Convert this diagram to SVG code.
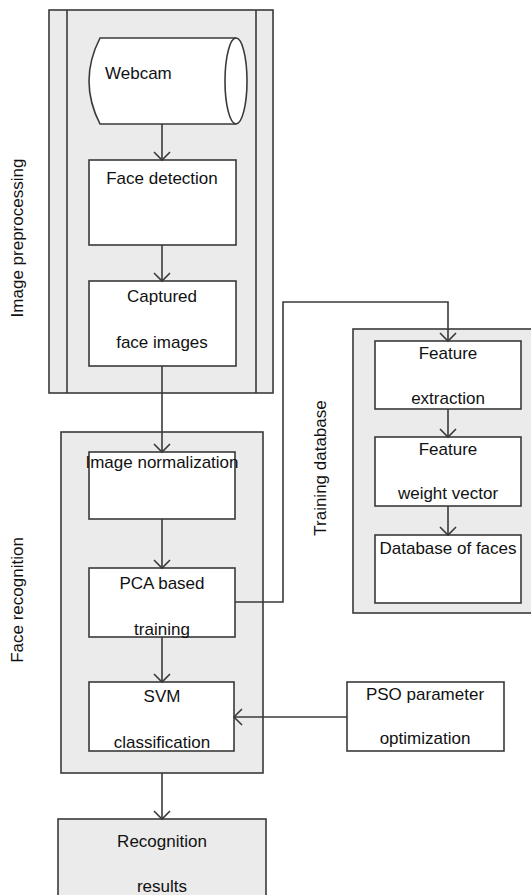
<svg xmlns="http://www.w3.org/2000/svg" width="531" height="895" viewBox="0 0 531 895">
  <style>
    .panel { fill: #ebebeb; stroke: #3a3a3a; stroke-width: 1.6; }
    .box { fill: #ffffff; stroke: #3a3a3a; stroke-width: 1.6; }
    .line { fill: none; stroke: #3a3a3a; stroke-width: 1.6; }
    .edge { fill: none; stroke: #3a3a3a; stroke-width: 1.6; marker-end: url(#vhead); }
    text { font-family: "Liberation Sans", Arial, sans-serif; font-size: 17px; fill: #111; }
    .c { text-anchor: middle; }
  </style>
  <defs>
    <marker id="vhead" markerWidth="18" markerHeight="18" refX="9" refY="9" orient="auto" markerUnits="userSpaceOnUse">
      <path d="M1,1 L9,9 L1,17" fill="none" stroke="#3a3a3a" stroke-width="1.6"/>
    </marker>
  </defs>
  <rect width="531" height="895" fill="#ffffff"/>

  <!-- Image preprocessing panel -->
  <g id="image-preprocessing">
    <rect class="panel" x="49" y="10" width="224" height="383"/>
    <line class="line" x1="67" y1="10" x2="67" y2="393"/>
    <line class="line" x1="256" y1="10" x2="256" y2="393"/>
    <text transform="translate(23,238) rotate(-90)" class="c">Image preprocessing</text>
  </g>

  <!-- Face recognition panel -->
  <g id="face-recognition">
    <rect class="panel" x="61" y="432" width="202" height="341"/>
    <text transform="translate(23,600) rotate(-90)" class="c">Face recognition</text>
  </g>

  <!-- Training database panel -->
  <g id="training-database">
    <rect class="panel" x="353" y="329" width="180" height="284"/>
    <text transform="translate(326,468) rotate(-90)" class="c">Training database</text>
  </g>

  <g id="webcam">
    <path class="box" d="M100,38 L236,38 A11,43 0 0 1 236,124 L100,124 Q78,81 100,38 Z"/>
    <path class="line" d="M236,38 A11,43 0 0 0 236,124"/>
    <text x="105" y="79">Webcam</text>
  </g>

  <g id="face-detection">
    <rect class="box" x="89" y="160" width="147" height="85"/>
    <text x="162" y="184" class="c">Face detection</text>
  </g>

  <g id="captured-face-images">
    <rect class="box" x="89" y="281" width="147" height="85"/>
    <text x="162" y="302" class="c">Captured</text>
    <text x="162" y="348" class="c">face images</text>
  </g>

  <g id="image-normalization">
    <rect class="box" x="89" y="452" width="146" height="67"/>
    <text x="162" y="468" class="c">Image normalization</text>
  </g>

  <g id="pca-training">
    <rect class="box" x="89" y="568" width="146" height="69"/>
    <text x="162" y="589" class="c">PCA based</text>
    <text x="162" y="635" class="c">training</text>
  </g>

  <g id="svm-classification">
    <rect class="box" x="89" y="682" width="145" height="69"/>
    <text x="162" y="702" class="c">SVM</text>
    <text x="162" y="748" class="c">classification</text>
  </g>

  <g id="pso-optimization">
    <rect class="box" x="347" y="682" width="157" height="69"/>
    <text x="425" y="700" class="c">PSO parameter</text>
    <text x="425" y="744" class="c">optimization</text>
  </g>

  <g id="feature-extraction">
    <rect class="box" x="375" y="341" width="146" height="68"/>
    <text x="448" y="359" class="c">Feature</text>
    <text x="448" y="404" class="c">extraction</text>
  </g>

  <g id="feature-weight-vector">
    <rect class="box" x="375" y="437" width="146" height="69"/>
    <text x="448" y="455" class="c">Feature</text>
    <text x="448" y="499" class="c">weight vector</text>
  </g>

  <g id="database-of-faces">
    <rect class="box" x="375" y="535" width="146" height="68"/>
    <text x="448" y="554" class="c">Database of faces</text>
  </g>

  <g id="recognition-results">
    <rect class="panel" x="58" y="819" width="208" height="90"/>
    <text x="162" y="847" class="c">Recognition</text>
    <text x="162" y="892" class="c">results</text>
  </g>

  <!-- connectors -->
  <g id="connectors">
    <path class="edge" d="M162,124 L162,160"/>
    <path class="edge" d="M162,245 L162,281"/>
    <path class="edge" d="M162,366 L162,452"/>
    <path class="edge" d="M162,519 L162,568"/>
    <path class="edge" d="M162,637 L162,682"/>
    <path class="edge" d="M162,773 L162,819"/>
    <path class="edge" d="M235,602 L283,602 L283,302 L448,302 L448,341"/>
    <path class="edge" d="M448,409 L448,437"/>
    <path class="edge" d="M448,506 L448,535"/>
    <path class="edge" d="M347,717 L234,717"/>
  </g>
</svg>
